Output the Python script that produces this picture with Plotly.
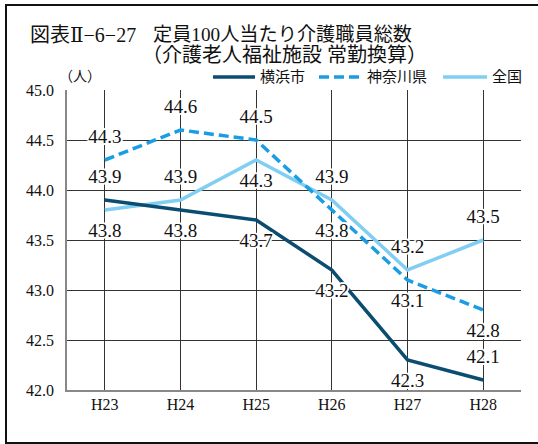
import plotly.graph_objects as go

categories = ["H23", "H24", "H25", "H26", "H27", "H28"]
yokohama = [43.9, 43.8, 43.7, 43.2, 42.3, 42.1]
kanagawa = [44.3, 44.6, 44.5, 43.8, 43.1, 42.8]
zenkoku = [43.8, 43.9, 44.3, 43.9, 43.2, 43.5]
series_names = ["横浜市", "神奈川県", "全国"]
y_ticks = [42.0, 42.5, 43.0, 43.5, 44.0, 44.5, 45.0]

# label placement (style only)
pos_yokohama = ["top center", "bottom center", "bottom center", "bottom center", "bottom center", "top center"]
pos_kanagawa = ["top center", "top center", "top center", "bottom center", "bottom center", "bottom center"]
pos_zenkoku = ["bottom center", "top center", "bottom center", "top center", "top center", "top center"]

SERIF = '"Liberation Serif", "DejaVu Serif", "Noto Sans CJK JP", serif'
c_navy = "#0b4d70"
c_dash = "#1a9de2"
c_light = "#80cff3"
DASH = "10px,5px"

fig = go.Figure()
fig.add_trace(go.Scatter(x=categories, y=zenkoku, name=series_names[2], mode="lines",
                         line=dict(color=c_light, width=3.5)))
fig.add_trace(go.Scatter(x=categories, y=kanagawa, name=series_names[1], mode="lines",
                         line=dict(color=c_dash, width=3.5, dash=DASH)))
fig.add_trace(go.Scatter(x=categories, y=yokohama, name=series_names[0], mode="lines",
                         line=dict(color=c_navy, width=3.5)))

halo = "1px 1px 0 #fff, -1px -1px 0 #fff, 1px -1px 0 #fff, -1px 1px 0 #fff, 2px 0 0 #fff, -2px 0 0 #fff, 0 2px 0 #fff, 0 -2px 0 #fff"
for vals, pos in [(yokohama, pos_yokohama), (kanagawa, pos_kanagawa), (zenkoku, pos_zenkoku)]:
    fig.add_trace(go.Scatter(x=categories, y=vals, mode="markers+text", text=[f"{v:.1f}" for v in vals],
                             textposition=pos, showlegend=False, hoverinfo="skip",
                             marker=dict(size=18, opacity=0),
                             textfont=dict(family=SERIF, size=19, color="#111", shadow=halo)))

fig.update_layout(
    width=538, height=444,
    margin=dict(l=67, r=17, t=90, b=54),
    paper_bgcolor="white", plot_bgcolor="white",
    showlegend=False,
    xaxis=dict(type="category", range=[-0.5, 5.5], showgrid=True, gridcolor="#333", gridwidth=1,
               showline=True, linecolor="#888", linewidth=1.5, ticks="",
               tickfont=dict(family=SERIF, size=16, color="#111"), ticklabelstandoff=-1,
               zeroline=False, fixedrange=True),
    yaxis=dict(range=[42.0, 45.0], tickvals=y_ticks, ticktext=[f"{v:.1f}" for v in y_ticks],
               showgrid=True, gridcolor="#333", gridwidth=1,
               showline=True, linecolor="#888", linewidth=1.5, ticks="",
               tickfont=dict(family=SERIF, size=16, color="#111"), ticklabelstandoff=8,
               zeroline=False, fixedrange=True),
    font=dict(family=SERIF, color="#111"),
)

W, H = 454.0, 300.0
def px(x):
    return (x - 67) / W
def py(y):
    return 1 + (90 - y) / H

# outer frame
fig.add_shape(type="rect", xref="paper", yref="paper", x0=px(6), x1=px(545), y0=py(443), y1=py(5),
              line=dict(color="#111", width=2), layer="below")

# custom legend
leg_y = py(77)
legend_items = [(series_names[0], c_navy, None, 213, 255, 258),
                (series_names[1], c_dash, "dash", 319, 362, 365),
                (series_names[2], c_light, None, 443, 487, 490)]
for name, col, dash, x0, x1, xt in legend_items:
    ln = dict(color=col, width=3.5)
    if dash:
        ln["dash"] = DASH
    fig.add_shape(type="line", xref="paper", yref="paper", x0=px(x0), x1=px(x1), y0=leg_y, y1=leg_y, line=ln)
    fig.add_annotation(xref="paper", yref="paper", x=px(xt), y=leg_y, xanchor="left", yanchor="middle",
                       text=name, showarrow=False, font=dict(family=SERIF, size=15, color="#111"))

title_font = dict(family=SERIF, size=20, color="#111")
fig.add_annotation(xref="paper", yref="paper", x=px(28), y=py(35), xanchor="left", yanchor="middle",
                   text="図表Ⅱ−6−27", showarrow=False, font=title_font)
fig.add_annotation(xref="paper", yref="paper", x=px(151), y=py(35), xanchor="left", yanchor="middle",
                   text="定員100人当たり介護職員総数", showarrow=False,
                   font=dict(family=SERIF, size=19.2, color="#111"))
fig.add_annotation(xref="paper", yref="paper", x=px(140), y=py(55), xanchor="left", yanchor="middle",
                   text="（介護老人福祉施設 常勤換算）", showarrow=False, font=title_font)
fig.add_annotation(xref="paper", yref="paper", x=px(80), y=py(77), xanchor="center", yanchor="middle",
                   text="（人）", showarrow=False,
                   font=dict(family=SERIF, size=14, color="#111"))

fig.write_html("out.html", config={"displayModeBar": False},
               post_script="document.body.style.margin='0';document.body.style.overflow='hidden';")
